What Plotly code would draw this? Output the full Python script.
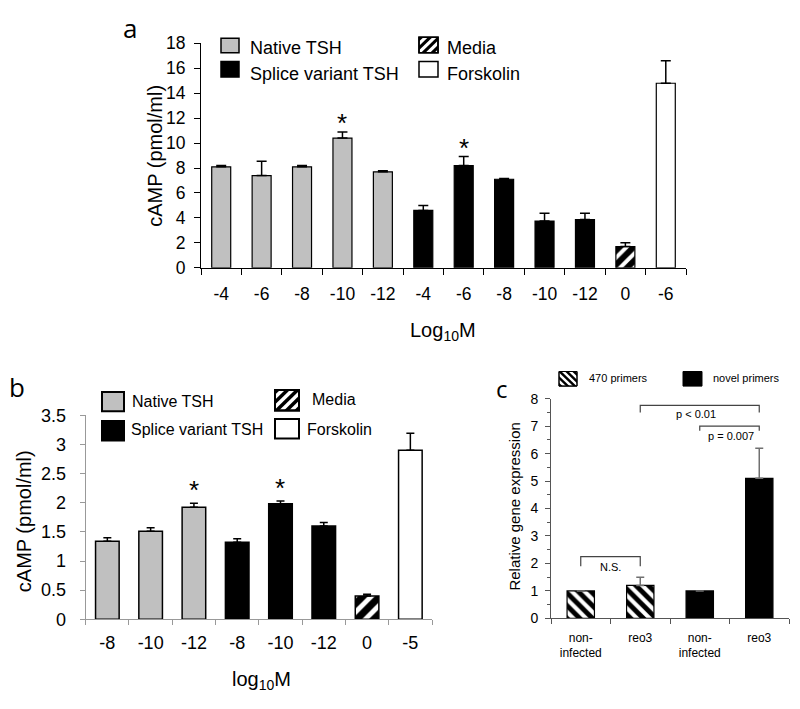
import plotly.graph_objects as go

W, H = 800, 709
FONT = "Liberation Sans, Arial, sans-serif"
LETTER_FONT = "Open Sans, Liberation Sans, sans-serif"

# ---------------- Data ----------------
# Panel a
a_labels = ["-4", "-6", "-8", "-10", "-12", "-4", "-6", "-8", "-10", "-12", "0", "-6"]
a_native = [8.1, 7.4, 8.1, 10.4, 7.7]
a_native_err = [0.1, 1.15, 0.1, 0.5, 0.08]
a_splice = [4.6, 8.2, 7.1, 3.75, 3.87]
a_splice_err = [0.4, 0.72, 0.06, 0.62, 0.5]
a_media = [1.7]
a_media_err = [0.3]
a_forsk = [14.8]
a_forsk_err = [1.8]
a_star_idx = [3, 6]

# Panel b
b_labels = ["-8", "-10", "-12", "-8", "-10", "-12", "0", "-5"]
b_native = [1.34, 1.51, 1.92]
b_native_err = [0.06, 0.06, 0.07]
b_splice = [1.32, 1.98, 1.60]
b_splice_err = [0.06, 0.05, 0.06]
b_media = [0.40]
b_media_err = [0.03]
b_forsk = [2.90]
b_forsk_err = [0.29]
b_star_idx = [2, 4]

# Panel c
c_labels = ["non-<br>infected", "reo3", "non-<br>infected", "reo3"]
c_470 = [1.0, 1.2]
c_470_err = [None, 0.3]
c_novel = [1.0, 5.1]
c_novel_err = [None, 1.1]

# ---------------- Helpers ----------------
def px(x):
    return x / W

def py(y):
    return 1 - y / H

shapes = []
annotations = []

def legend_box(x0, y0, x1, y1, fill, lw=1.5):
    shapes.append(dict(type="rect", xref="paper", yref="paper",
                       x0=px(x0), x1=px(x1), y0=py(y1), y1=py(y0),
                       fillcolor=fill, line=dict(color="black", width=lw), layer="above"))

def clip(poly, a, b, c):
    out = []
    n = len(poly)
    for i in range(n):
        p, q = poly[i], poly[(i + 1) % n]
        fp = a * p[0] + b * p[1] - c
        fq = a * q[0] + b * q[1] - c
        if fp <= 0:
            out.append(p)
        if (fp <= 0) != (fq <= 0):
            t = fp / (fp - fq)
            out.append((p[0] + t * (q[0] - p[0]), p[1] + t * (q[1] - p[1])))
    return out

def hatch_box(x0, y0, x1, y1, period, solid, kind, lw=1.5):
    legend_box(x0, y0, x1, y1, "white", lw)
    rect = [(x0, y0), (x1, y0), (x1, y1), (x0, y1)]
    sgn = 1 if kind == "/" else -1
    vals = [x + sgn * y for x, y in rect]
    lo, hi = min(vals), max(vals)
    c = lo - period
    while c < hi + period:
        poly = clip(rect, -1, -sgn, -c)
        poly = clip(poly, 1, sgn, c + period * solid)
        if len(poly) >= 3:
            path = "M " + " L ".join(f"{px(x):.5f},{py(y):.5f}" for x, y in poly) + " Z"
            shapes.append(dict(type="path", xref="paper", yref="paper", path=path,
                               fillcolor="black", line=dict(width=0), layer="above"))
        c += period
    shapes.append(dict(type="rect", xref="paper", yref="paper",
                       x0=px(x0), x1=px(x1), y0=py(y1), y1=py(y0),
                       fillcolor="rgba(0,0,0,0)", line=dict(color="black", width=lw), layer="above"))

def text(x, y, s, size, xanchor="left", yanchor="middle", angle=0, font=FONT, color="black"):
    annotations.append(dict(x=px(x), y=py(y), xref="paper", yref="paper", text=s,
                            showarrow=False, xanchor=xanchor, yanchor=yanchor,
                            textangle=angle, font=dict(family=font, size=size, color=color)))

def err(arr, color="black", thick=1.5, width=5):
    return dict(type="data", array=arr, arrayminus=[0] * len(arr), symmetric=False,
                color=color, thickness=thick, width=width, visible=True)

def hatch(shape, size, solidity):
    return dict(shape=shape, size=size, solidity=solidity, fgcolor="black",
                bgcolor="white", fgopacity=1, fillmode="replace")

fig = go.Figure()

# ---------------- Panel a ----------------
GREY = "#c0c0c0"
ax_a = list(range(len(a_labels)))
n1 = len(a_native); n2 = len(a_splice)
wa = 0.47
fig.add_trace(go.Bar(x=ax_a[:n1], y=a_native, width=wa, marker=dict(color=GREY, line=dict(color="black", width=1.2)),
                     error_y=err(a_native_err), xaxis="x", yaxis="y", showlegend=False))
fig.add_trace(go.Bar(x=ax_a[n1:n1 + n2], y=a_splice, width=wa, marker=dict(color="black", line=dict(color="black", width=1.2)),
                     error_y=err(a_splice_err), xaxis="x", yaxis="y", showlegend=False))
fig.add_trace(go.Bar(x=ax_a[n1 + n2:n1 + n2 + 1], y=a_media, width=wa,
                     marker=dict(color="white", line=dict(color="black", width=1.2), pattern=hatch("/", 10, 0.6)),
                     error_y=err(a_media_err), xaxis="x", yaxis="y", showlegend=False))
fig.add_trace(go.Bar(x=ax_a[n1 + n2 + 1:], y=a_forsk, width=wa, marker=dict(color="white", line=dict(color="black", width=1.2)),
                     error_y=err(a_forsk_err), xaxis="x", yaxis="y", showlegend=False))
a_all = a_native + a_splice + a_media + a_forsk
a_all_err = a_native_err + a_splice_err + a_media_err + a_forsk_err
for i in a_star_idx:
    annotations.append(dict(x=i, y=a_all[i] + a_all_err[i], xref="x", yref="y", text="*",
                            showarrow=False, yanchor="bottom", yshift=-8,
                            font=dict(family=FONT, size=26, color="black")))

# ---------------- Panel b ----------------
ax_b = list(range(len(b_labels)))
m1 = len(b_native); m2 = len(b_splice)
wb = 0.545
fig.add_trace(go.Bar(x=ax_b[:m1], y=b_native, width=wb, marker=dict(color=GREY, line=dict(color="black", width=1.5)),
                     error_y=err(b_native_err, width=4), xaxis="x2", yaxis="y2", showlegend=False))
fig.add_trace(go.Bar(x=ax_b[m1:m1 + m2], y=b_splice, width=wb, marker=dict(color="black", line=dict(color="black", width=1.5)),
                     error_y=err(b_splice_err, width=4), xaxis="x2", yaxis="y2", showlegend=False))
fig.add_trace(go.Bar(x=ax_b[m1 + m2:m1 + m2 + 1], y=b_media, width=wb,
                     marker=dict(color="white", line=dict(color="black", width=1.5), pattern=hatch("/", 12, 0.6)),
                     error_y=err(b_media_err, width=4), xaxis="x2", yaxis="y2", showlegend=False))
fig.add_trace(go.Bar(x=ax_b[m1 + m2 + 1:], y=b_forsk, width=wb, marker=dict(color="white", line=dict(color="black", width=1.5)),
                     error_y=err(b_forsk_err, width=4), xaxis="x2", yaxis="y2", showlegend=False))
b_all = b_native + b_splice + b_media + b_forsk
b_all_err = b_native_err + b_splice_err + b_media_err + b_forsk_err
for i in b_star_idx:
    annotations.append(dict(x=i, y=b_all[i] + b_all_err[i], xref="x2", yref="y2", text="*",
                            showarrow=False, yanchor="bottom", yshift=-4,
                            font=dict(family=FONT, size=26, color="black")))

# ---------------- Panel c ----------------
wc = 0.46
fig.add_trace(go.Bar(x=[0, 1], y=c_470, width=wc,
                     marker=dict(color="white", line=dict(color="black", width=1.2), pattern=hatch("\\", 9, 0.55)),
                     error_y=err(c_470_err, color="#707070", thick=1.5, width=4), xaxis="x3", yaxis="y3", showlegend=False))
fig.add_trace(go.Bar(x=[2, 3], y=c_novel, width=wc, marker=dict(color="black", line=dict(color="black", width=1.2)),
                     error_y=err(c_novel_err, color="#707070", thick=1.5, width=4), xaxis="x3", yaxis="y3", showlegend=False))

# significance brackets (panel c)
BR = "#444444"
def bracket(xa, xb, ytop, ybot):
    shapes.append(dict(type="path", xref="x3", yref="y3",
                       path=f"M {xa},{ybot} L {xa},{ytop} L {xb},{ytop} L {xb},{ybot}",
                       line=dict(color=BR, width=1.2)))
bracket(0, 1, 2.25, 1.9)
bracket(1, 3, 7.76, 7.5)
bracket(2, 3, 7.0, 6.83)
for (x, y, s) in [(0.5, 1.87, "N.S."), (1.94, 7.46, "p &lt; 0.01"), (2.52, 6.64, "p = 0.007")]:
    annotations.append(dict(x=x, y=y, xref="x3", yref="y3", text=s, showarrow=False,
                            font=dict(family=FONT, size=11, color="black")))

# ---------------- Legends (manual) ----------------
# panel a
legend_box(221, 29, 239, 44, GREY)
legend_box(221, 53, 239, 69, "black")
hatch_box(419, 28, 438, 44, 9, 0.5, "/")
legend_box(419, 53, 438, 69, "white")
text(248, 39, "Native TSH", 18)
text(248, 66, "Splice variant TSH", 18)
text(445, 39, "Media", 18)
text(445, 66, "Forskolin", 18)
# panel b
legend_box(102, 393, 124, 413, GREY, 2)
legend_box(102, 423, 124, 443, "black", 2)
hatch_box(275, 391, 299, 412, 10, 0.5, "/", 2)
legend_box(275, 421, 299, 441, "white", 2)
text(130, 403, "Native TSH", 16)
text(129, 432, "Splice variant TSH", 16)
text(310, 401, "Media", 16)
text(305, 432, "Forskolin", 16)
# panel c
hatch_box(559, 372, 577, 387, 7, 0.5, "\\", 1)
legend_box(683, 372, 702, 387, "black", 1)
text(587, 379, "470 primers", 11)
text(711, 379, "novel primers", 11)

# ---------------- Titles / letters ----------------
text(130, 19, "a", 26, xanchor="center", font=LETTER_FONT)
text(17, 388, "b", 26, xanchor="center", font=LETTER_FONT)
text(502, 389, "c", 24, xanchor="center", font=LETTER_FONT)
text(155, 150, "cAMP (pmol/ml)", 20, xanchor="center", angle=-90)
text(443, 331, "Log<sub>10</sub>M", 20, xanchor="center")
text(24, 526, "cAMP (pmol/ml)", 20, xanchor="center", angle=-90)
text(261, 690, "log<sub>10</sub>M", 20, xanchor="center")
text(515, 511, "Relative gene expression", 15, xanchor="center", angle=-90)

# ---------------- Axes ----------------
def xaxis(domain, n, labels, size, color, standoff, ylink, ticklen=5):
    return dict(domain=domain, range=[-0.5, n - 0.5], tickmode="array",
                tickvals=list(range(n)), ticktext=labels, ticks="", showline=True,
                linecolor=color, linewidth=1, showgrid=False, zeroline=False, anchor=ylink,
                tickfont=dict(family=FONT, size=size, color="black"), ticklabelstandoff=standoff,
                minor=dict(tickmode="array", tickvals=[i - 0.5 for i in range(n + 1)],
                           ticks="outside", ticklen=ticklen, tickcolor=color, tickwidth=1, showgrid=False),
                fixedrange=True)

def yaxis(domain, rng, dtick, size, color, standoff, xlink, minor=None, ticklen=5):
    d = dict(domain=domain, range=rng, dtick=dtick, tick0=0, ticks="outside", ticklen=ticklen,
             tickcolor=color, tickwidth=1, showline=True, linecolor=color, linewidth=1,
             showgrid=False, zeroline=False, anchor=xlink,
             tickfont=dict(family=FONT, size=size, color="black"), ticklabelstandoff=standoff,
             fixedrange=True)
    if minor:
        d["minor"] = minor
    return d

fig.update_layout(
    width=W, height=H, margin=dict(l=0, r=0, t=0, b=0),
    paper_bgcolor="white", plot_bgcolor="white", barmode="overlay",
    showlegend=False,
    xaxis=xaxis([px(201), px(686)], len(a_labels), a_labels, 17.5, "black", 10, "y", 6),
    yaxis=yaxis([py(265.3), py(34.3)], [0, 18], 2, 17.5, "black", 5, "x", ticklen=6),
    xaxis2=xaxis([px(85.7), px(432)], len(b_labels), b_labels, 18, "#999999", 7, "y2"),
    yaxis2=yaxis([py(627), py(417)], [0, 3.5], 0.5, 18, "#999999", 10, "x2"),
    xaxis3=xaxis([px(551), px(789)], len(c_labels), c_labels, 12, "#555555", 8, "y3"),
    yaxis3=yaxis([py(626), py(400)], [0, 8], 1, 14, "#555555", 4, "x3",
                 minor=dict(dtick=0.5, tick0=0, ticks="outside", ticklen=3, tickcolor="#555555", showgrid=False)),
    shapes=shapes, annotations=annotations,
)

# pin the figure to the top-left corner of the page so the page is exactly the figure
post = ("var gd=document.getElementById('{plot_id}');"
        "document.documentElement.style.overflow='hidden';"
        "document.body.style.margin='0';"
        "gd.style.position='fixed';gd.style.top='0px';gd.style.left='0px';")

fig.write_html("out.html", post_script=post, config={"displayModeBar": False, "staticPlot": True})
